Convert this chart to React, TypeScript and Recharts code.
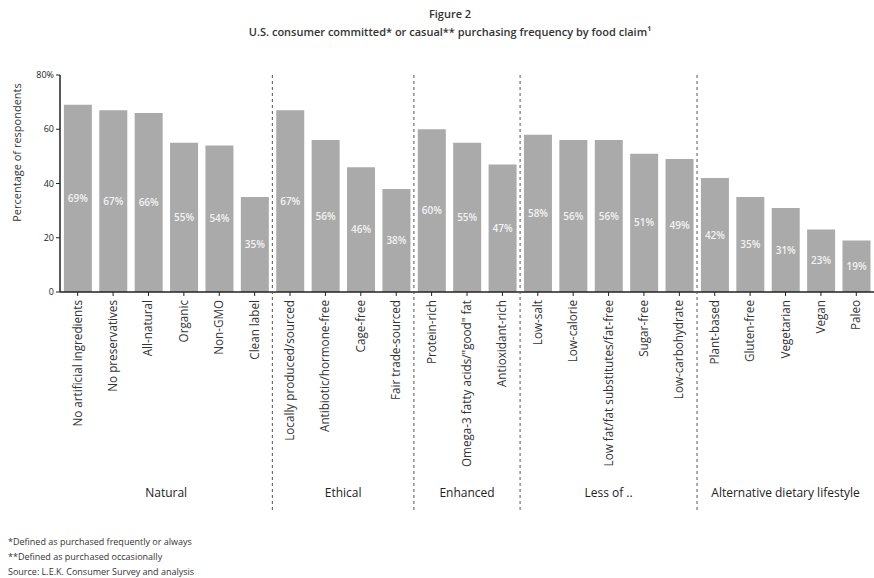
import React from 'react';
import { Bar, BarChart, LabelList, XAxis, YAxis } from 'recharts';

const claims = [
  'No artificial ingredients', 'No preservatives', 'All-natural', 'Organic', 'Non-GMO', 'Clean label',
  'Locally produced/sourced', 'Antibiotic/hormone-free', 'Cage-free', 'Fair trade-sourced',
  'Protein-rich', 'Omega-3 fatty acids/"good" fat', 'Antioxidant-rich',
  'Low-salt', 'Low-calorie', 'Low fat/fat substitutes/fat-free', 'Sugar-free', 'Low-carbohydrate',
  'Plant-based', 'Gluten-free', 'Vegetarian', 'Vegan', 'Paleo',
];

const shares = [
  69, 67, 66, 55, 54, 35,
  67, 56, 46, 38,
  60, 55, 47,
  58, 56, 56, 51, 49,
  42, 35, 31, 23, 19,
];

const groupNames = ['Natural', 'Ethical', 'Enhanced', 'Less of ..', 'Alternative dietary lifestyle'];
const groupSizes = [6, 4, 3, 5, 5];
const yTicks = [0, 20, 40, 60, 80];

const data = claims.map((claim, i) => ({ claim, share: shares[i] }));

const W = 874;
const H = 578;
const LEFT = 60;
const TOP = 75;
const BOTTOM = 292;
const STEP = (W - LEFT) / claims.length;

const groupStarts: number[] = [];
groupSizes.reduce((acc, n) => {
  groupStarts.push(acc);
  return acc + n;
}, 0);

const font = '"Open Sans", "Noto Sans", sans-serif';

function ClaimTick(props: any) {
  const { x, y, payload, index } = props;
  const g = groupStarts.indexOf(index);
  const left = x - STEP / 2;
  return (
    <g>
      <text
        x={x + 4}
        y={y + 2}
        transform={`rotate(-90, ${x + 4}, ${y + 2})`}
        textAnchor="end"
        fontSize={11.7}
        fill="#333"
        fontFamily={font}
      >
        {payload.value}
      </text>
      {g > 0 && (
        <line x1={left} x2={left} y1={TOP - y} y2={213} transform={`translate(0, ${y})`} stroke="#555" strokeDasharray="3 3" />
      )}
      {g >= 0 && (
        <text
          x={left + (groupSizes[g] * STEP) / 2}
          y={BOTTOM + 205}
          textAnchor="middle"
          fontSize={12}
          fill="#222"
          fontFamily={font}
        >
          {groupNames[g]}
        </text>
      )}
    </g>
  );
}

export default function App() {
  return (
    <div style={{ position: 'absolute', left: 0, top: 0, width: W, height: H, background: '#fff', fontFamily: font }}>
      <div style={{ position: 'absolute', top: 6, left: 0, width: 900, textAlign: 'center', fontSize: 11, color: '#333', fontWeight: 600 }}>
        Figure 2
      </div>
      <div style={{ position: 'absolute', top: 24, left: 0, width: 900, textAlign: 'center', fontSize: 11, color: '#333', fontWeight: 600 }}>
        U.S. consumer committed* or casual** purchasing frequency by food claim¹
      </div>
      <BarChart
        width={W}
        height={H}
        data={data}
        margin={{ top: TOP, right: 0, left: 0, bottom: 0 }}
        barCategoryGap="11%"
      >
        <YAxis
          width={LEFT}
          domain={[0, 80]}
          ticks={yTicks}
          interval={0}
          tickSize={4}
          tickFormatter={(v: number) => (v === 80 ? '80%' : String(v))}
          tick={{ fontSize: 9, fill: '#222', fontFamily: font }}
          axisLine={{ stroke: '#222', strokeWidth: 1.5 }}
          tickLine={{ stroke: '#222' }}
          label={{ value: 'Percentage of respondents', angle: -90, position: 'insideLeft', dx: 12, dy: -31, fontSize: 11, fill: '#333', fontFamily: font, style: { textAnchor: 'middle' } }}
        />
        <XAxis
          dataKey="claim"
          interval={0}
          height={H - BOTTOM}
          tickSize={4}
          tick={<ClaimTick />}
          axisLine={{ stroke: '#222', strokeWidth: 1.5 }}
          tickLine={{ stroke: '#222' }}
        />
        <Bar dataKey="share" fill="#aaaaaa" isAnimationActive={false}>
          <LabelList
            dataKey="share"
            position="center"
            formatter={(v: any) => `${v}%`}
            style={{ fontSize: 10, fill: '#f2f2f2', fontFamily: font, fontWeight: 600 }}
          />
        </Bar>
      </BarChart>
      <div style={{ position: 'absolute', left: 8, top: 534, fontSize: 9, lineHeight: '15px', color: '#333' }}>
        <div>*Defined as purchased frequently or always</div>
        <div>**Defined as purchased occasionally</div>
        <div>Source: L.E.K. Consumer Survey and analysis</div>
      </div>
    </div>
  );
}
